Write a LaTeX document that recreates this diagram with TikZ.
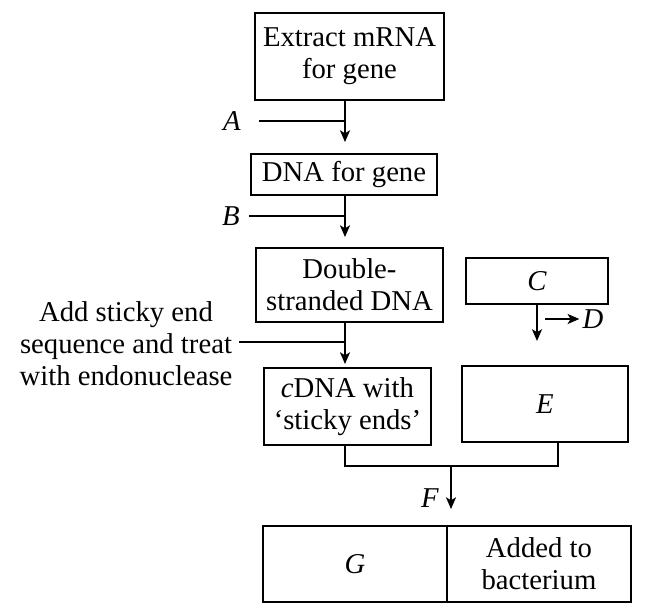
\documentclass[tikz,border=0pt]{standalone}
\usepackage{fontspec}
\setmainfont{Liberation Serif}
\usepackage{tikz}
\usetikzlibrary{calc, arrows.meta}

\begin{document}
\begin{tikzpicture}[x=0.03cm, y=-0.03cm, >={Stealth[length=10pt, width=8.5pt, inset=2.5pt]},
    line width=1.6pt, font=\fontsize{24.5}{27.3}\selectfont,
    box/.style={draw, align=center, inner sep=0pt},
    lbl/.style={inner sep=2pt, font=\fontsize{24.5}{27.3}\selectfont\itshape}]
  \useasboundingbox (0, 0) rectangle (667, 613);

  \node[box, minimum width=5.67cm, minimum height=2.61cm] (mrna) at (349.5, 56.5) {Extract mRNA\\for gene};
  \node[box, minimum width=5.58cm, minimum height=1.23cm] (dna) at (344, 174.5) {DNA for gene};
  \node[box, minimum width=5.61cm, minimum height=2.22cm] (ds) at (349.5, 285) {Double-\\stranded DNA};
  \node[box, minimum width=5.01cm, minimum height=2.31cm] (cdna) at (347.5, 406.5) {\textit{c}DNA with\\`sticky ends'};
  \node[box, minimum width=4.26cm, minimum height=1.38cm] (c) at (537, 281) {\textit{C}};
  \node[box, minimum width=4.98cm, minimum height=2.28cm] (e) at (545, 404) {\textit{E}};
  \node[box, minimum width=5.52cm, minimum height=2.28cm] (g) at (355, 564) {\textit{G}};
  \node[box, minimum width=5.52cm, minimum height=2.28cm] (added) at (539, 564) {Added to\\bacterium};

  \node[lbl] (a) at (232, 121) {A};
  \node[lbl] (b) at (231, 216) {B};
  \node[lbl] (d) at (593, 319) {D};
  \node[lbl] (f) at (430, 498) {F};
  \node[align=center, inner sep=0pt] (sticky) at (126, 344) {Add sticky end\\sequence and treat\\with endonuclease};

  \coordinate (axis) at (345, 0);
  \coordinate (eline) at (558, 0);
  \coordinate (join) at (451, 466);
  \coordinate (cend) at (537, 341);
  \coordinate (dstart) at (545, 319);

  \draw[->, shorten >=0.33cm] (mrna.south -| axis) -- (dna.north -| axis);
  \draw[shorten <=0.45cm] (a.east) -- (a.east -| axis);
  \draw[->, shorten >=0.3cm] (dna.south -| axis) -- (ds.north -| axis);
  \draw[shorten <=0.18cm] (b.east) -- (b.east -| axis);
  \draw[->, shorten >=0.09cm] (ds.south -| axis) -- (cdna.north -| axis);
  \draw ($(sticky.east)+(6, -2)$) -- ($(sticky.east -| axis)+(0, -2)$);

  \draw[->] (c.south) -- (cend);
  \draw[->] (dstart) -- (d.west);

  % merge into F
  \draw (cdna.south -| axis) |- (join) -| (e.south -| eline);
  \draw[->, shorten >=0.48cm] (join) -- (join |- g.north);
\end{tikzpicture}
\end{document}
